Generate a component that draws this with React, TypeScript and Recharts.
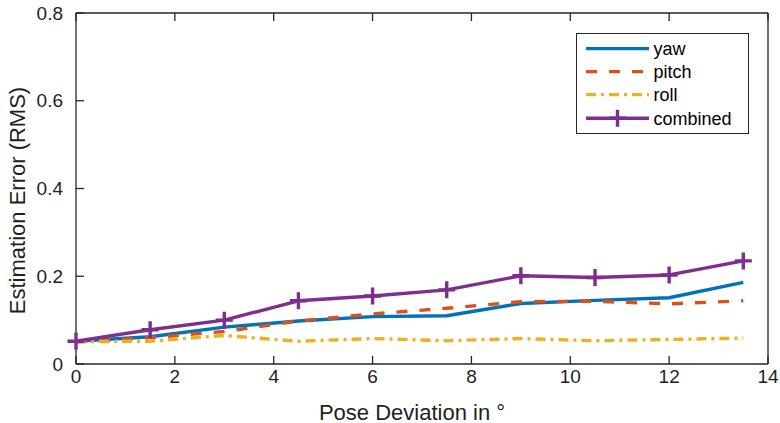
import React from 'react';
import { LineChart, Line, XAxis, YAxis, Legend } from 'recharts';

// Pose deviation (degrees) at which each error was measured
const deviation = [0, 1.5, 3, 4.5, 6, 7.5, 9, 10.5, 12, 13.5];

// RMS estimation error per angle
const yaw = [0.052, 0.062, 0.084, 0.098, 0.108, 0.11, 0.138, 0.145, 0.151, 0.186];
const pitch = [0.05, 0.06, 0.074, 0.098, 0.114, 0.127, 0.142, 0.143, 0.137, 0.144];
const roll = [0.051, 0.052, 0.065, 0.052, 0.058, 0.053, 0.058, 0.053, 0.056, 0.059];
const combined = [0.052, 0.078, 0.1, 0.144, 0.155, 0.169, 0.201, 0.197, 0.203, 0.235];

const xTicks = [0, 2, 4, 6, 8, 10, 12, 14];
const yTicks = [0, 0.2, 0.4, 0.6, 0.8];
const yTickLabels = ['0', '0.2', '0.4', '0.6', '0.8'];

const data = deviation.map((x, i) => ({
  x,
  yaw: yaw[i],
  pitch: pitch[i],
  roll: roll[i],
  combined: combined[i],
}));

const AXIS = '#262626';
const TEXT = '#1f1f1f';
const FONT = '"Liberation Sans", Arial, Helvetica, sans-serif';
const TICK_LEN = 8;
const LINE_W = 3.4;

type Series = { key: string; name: string; color: string; dash?: string; marker?: boolean };

const series: Series[] = [
  { key: 'yaw', name: 'yaw', color: '#0072BD' },
  { key: 'pitch', name: 'pitch', color: '#D95319', dash: '11 12' },
  { key: 'roll', name: 'roll', color: '#EDB120', dash: '10 5 3 5' },
  { key: 'combined', name: 'combined', color: '#7E2F8E', marker: true },
];

const PLUS = 8.5;

const PlusMarker = (props: any) => {
  const { cx, cy, stroke, index } = props;
  if (cx == null || cy == null) return null;
  return (
    <path
      key={`plus-${index}`}
      d={`M${cx - PLUS},${cy}H${cx + PLUS}M${cx},${cy - PLUS}V${cy + PLUS}`}
      stroke={stroke}
      strokeWidth={LINE_W}
      fill="none"
    />
  );
};

// Inward-pointing ticks on all four sides of the box
const BottomTick = (props: any) => {
  const { x, y, payload } = props;
  return (
    <g>
      <line x1={x} x2={x} y1={y} y2={y - TICK_LEN} stroke={AXIS} strokeWidth={1.3} />
      <text x={x} y={y + 6} dy="0.71em" textAnchor="middle" fontSize={19} fontFamily={FONT} fill={TEXT}>
        {String(payload.value)}
      </text>
    </g>
  );
};

const LeftTick = (props: any) => {
  const { x, y, payload } = props;
  const label = yTickLabels[yTicks.indexOf(payload.value)] ?? String(payload.value);
  return (
    <g>
      <line x1={x} x2={x + TICK_LEN} y1={y} y2={y} stroke={AXIS} strokeWidth={1.3} />
      <text x={x - 13} y={y} dy="0.355em" textAnchor="end" fontSize={19} fontFamily={FONT} fill={TEXT}>
        {label}
      </text>
    </g>
  );
};

const TopTick = (props: any) => {
  const { x, y } = props;
  return <line x1={x} x2={x} y1={y} y2={y + TICK_LEN} stroke={AXIS} strokeWidth={1.3} />;
};

const RightTick = (props: any) => {
  const { x, y } = props;
  return <line x1={x} x2={x - TICK_LEN} y1={y} y2={y} stroke={AXIS} strokeWidth={1.3} />;
};

const LegendBox = () => {
  const w = 173;
  const h = 101;
  const rows = [15.6, 38.6, 61.6, 85.2];
  return (
    <svg width={w} height={h} style={{ display: 'block' }}>
      <rect x={0.5} y={0.5} width={w - 1} height={h - 1} fill="#fff" stroke={AXIS} strokeWidth={1} />
      {series.map((s, i) => {
        const y = rows[i];
        return (
          <g key={s.key}>
            <line
              x1={10}
              x2={73}
              y1={y}
              y2={y}
              stroke={s.color}
              strokeWidth={LINE_W}
              strokeDasharray={s.dash}
            />
            {s.marker && (
              <path
                d={`M${41.5 - PLUS},${y}H${41.5 + PLUS}M41.5,${y - PLUS}V${y + PLUS}`}
                stroke={s.color}
                strokeWidth={LINE_W}
              />
            )}
            <text x={77.5} y={y} dy="0.36em" fontSize={18} fontFamily={FONT} fill="#000">
              {s.name}
            </text>
          </g>
        );
      })}
    </svg>
  );
};

const XLabel = (props: any) => {
  const vb = props.viewBox || {};
  return (
    <text
      x={(vb.x ?? 0) + (vb.width ?? 0) / 2 - 10}
      y={419.5}
      textAnchor="middle"
      fontSize={22}
      fontFamily={FONT}
      fill={TEXT}
    >
      Pose Deviation in °
    </text>
  );
};

const YLabel = (props: any) => {
  const vb = props.viewBox || {};
  const cy = (vb.y ?? 0) + (vb.height ?? 0) / 2 + 12;
  return (
    <text
      x={17}
      y={cy}
      transform={`rotate(-90, 17, ${cy})`}
      textAnchor="middle"
      dominantBaseline="central"
      fontSize={22}
      fontFamily={FONT}
      fill={TEXT}
    >
      Estimation Error (RMS)
    </text>
  );
};

export default function App() {
  return (
    <div style={{ position: 'absolute', left: 0, top: 0, width: 780, height: 423, overflow: 'hidden' }}>
      <LineChart
        width={780}
        height={423}
        data={data}
        margin={{ top: 12, right: 11, bottom: 0, left: 0 }}
      >
        <XAxis
          xAxisId="bottom"
          dataKey="x"
          type="number"
          domain={[0, 14]}
          ticks={xTicks}
          interval={0}
          orientation="bottom"
          height={59}
          stroke={AXIS}
          strokeWidth={1.3}
          tickLine={false}
          tickSize={0}
          tickMargin={0}
          tick={<BottomTick />}
          label={<XLabel />}
        />
        <XAxis
          xAxisId="top"
          dataKey="x"
          type="number"
          domain={[0, 14]}
          ticks={xTicks}
          interval={0}
          orientation="top"
          height={1}
          stroke={AXIS}
          strokeWidth={1.3}
          tickLine={false}
          tickSize={0}
          tickMargin={0}
          tick={<TopTick />}
        />
        <YAxis
          yAxisId="left"
          type="number"
          domain={[0, 0.8]}
          ticks={yTicks}
          interval={0}
          width={76}
          stroke={AXIS}
          strokeWidth={1.3}
          tickLine={false}
          tickSize={0}
          tickMargin={0}
          tick={<LeftTick />}
          label={<YLabel />}
        />
        <YAxis
          yAxisId="right"
          orientation="right"
          type="number"
          domain={[0, 0.8]}
          ticks={yTicks}
          interval={0}
          width={1}
          stroke={AXIS}
          strokeWidth={1.3}
          tickLine={false}
          tickSize={0}
          tickMargin={0}
          tick={<RightTick />}
        />
        {series.map((s) => (
          <Line
            key={s.key}
            xAxisId="bottom"
            yAxisId="left"
            type="linear"
            dataKey={s.key}
            name={s.name}
            stroke={s.color}
            strokeWidth={LINE_W}
            strokeDasharray={s.dash}
            strokeLinejoin="round"
            dot={s.marker ? <PlusMarker /> : false}
            activeDot={false}
            isAnimationActive={false}
          />
        ))}
        <Legend
          layout="vertical"
          align="center"
          verticalAlign="middle"
          content={<LegendBox />}
          wrapperStyle={{ left: 576, top: 33, width: 173, height: 101 }}
        />
      </LineChart>
    </div>
  );
}
